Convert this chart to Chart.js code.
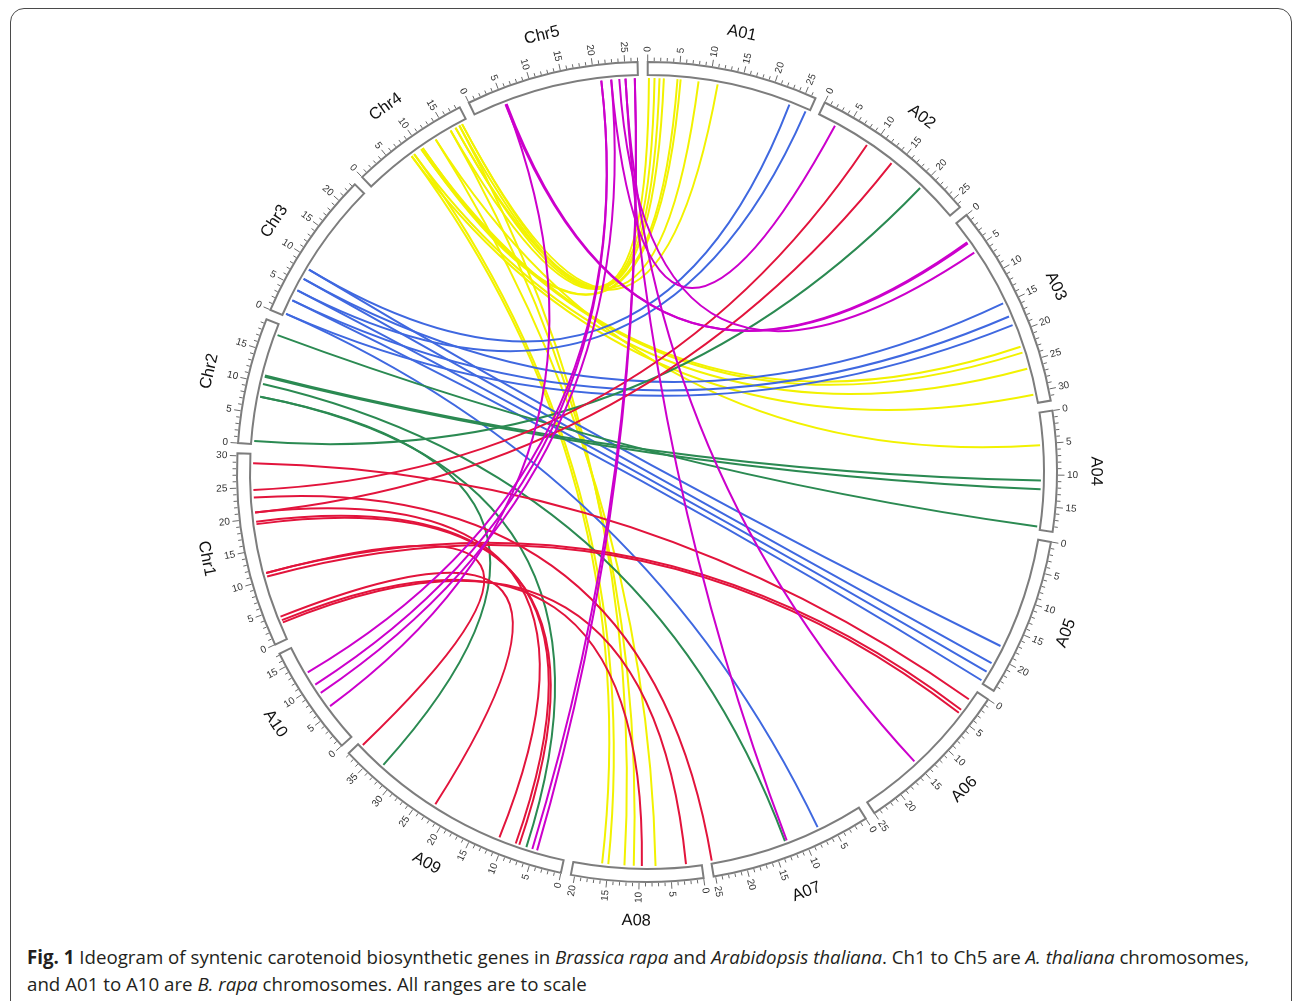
<!DOCTYPE html>
<html>
<head>
<meta charset="utf-8">
<script src="https://cdn.jsdelivr.net/npm/chart.js@4.4.1/dist/chart.umd.min.js"></script>
<style>
  body { margin: 0; background: #fff; width: 1292px; height: 1001px; overflow: hidden; position: relative; }
  #frame { position: absolute; left: 10px; top: 8px; width: 1282px; height: 1020px; border: 1.5px solid #4a4a4a; border-radius: 14px; box-sizing: border-box; }
  #wrap { position: absolute; left: 0; top: 0; width: 1292px; height: 930px; }
  #cap { position: absolute; left: 27px; top: 944px; font-family: 'Open Sans', sans-serif; font-size: 19px; line-height: 27px; color: #231f20; }
  #cap div { display: inline-block; white-space: nowrap; transform-origin: 0 50%; }
</style>
</head>
<body>
<div id="frame"></div>
<div id="wrap"><canvas id="chart"></canvas></div>
<div id="cap">
  <div id="l1"><b>Fig. 1</b> Ideogram of syntenic carotenoid biosynthetic genes in <i>Brassica rapa</i> and <i>Arabidopsis thaliana</i>. Ch1 to Ch5 are <i>A. thaliana</i> chromosomes,</div><br>
  <div id="l2">and A01 to A10 are <i>B. rapa</i> chromosomes. All ranges are to scale</div>
</div>
<script>
// chromosomes, clockwise from the top (Mb)
const chromNames = ['A01', 'A02', 'A03', 'A04', 'A05', 'A06', 'A07', 'A08', 'A09', 'A10', 'Chr1', 'Chr2', 'Chr3', 'Chr4', 'Chr5'];
const chromLengths = [26.7, 26.6, 31.8, 18.8, 24.8, 25.0, 25.3, 20.6, 38.2, 17.2, 30.4, 19.7, 23.5, 18.6, 27.0];

// links: [position on A. thaliana chromosome, B. rapa chromosome, position]
const chr1Links = [[28.9, 'A06', 1.7], [24.6, 'A02', 9.1], [23.4, 'A07', 25.2], [21.0, 'A02', 14.0], [21.0, 'A09', 10.9],
  [19.5, 'A09', 8.1], [19.1, 'A09', 7.5], [11.1, 'A06', 3.8], [10.5, 'A06', 4.4], [11.1, 'A09', 37.6],
  [3.7, 'A09', 22.5], [3.1, 'A08', 9.6], [2.7, 'A08', 2.5]];
const chr2Links = [[18.0, 'A04', 18.3], [11.2, 'A04', 10.9], [11.0, 'A04', 12.3], [9.8, 'A07', 13.0],
  [7.7, 'A09', 33.0], [7.7, 'A09', 6.3], [0.5, 'A02', 20.1]];
const chr3Links = [[8.4, 'A05', 18.1], [8.4, 'A01', 23.3], [6.7, 'A05', 21.2], [6.7, 'A03', 14.9], [4.6, 'A05', 22.8],
  [4.6, 'A01', 26.1], [2.8, 'A05', 24.4], [2.8, 'A03', 17.2], [0.4, 'A07', 7.3], [0.4, 'A03', 18.7]];
const chr4Links = [[8.1, 'A08', 16.0], [8.1, 'A03', 30.4], [8.6, 'A08', 15.0], [8.6, 'A03', 26.1], [10.0, 'A01', 5.3],
  [10.0, 'A03', 23.4], [10.3, 'A01', 4.8], [10.3, 'A03', 22.4], [12.8, 'A04', 5.2], [12.8, 'A08', 7.4],
  [15.6, 'A01', 2.6], [15.6, 'A08', 10.9], [16.5, 'A01', 1.9], [16.5, 'A01', 11.3], [17.2, 'A01', 1.1],
  [17.2, 'A08', 12.4], [17.7, 'A01', 0.2], [17.7, 'A01', 8.2]];
const chr5Links = [[5.2, 'A03', 3.5], [5.4, 'A03', 3.7], [5.3, 'A10', 6.0], [21.1, 'A10', 12.5], [21.1, 'A10', 10.2],
  [22.7, 'A10', 8.6], [22.7, 'A02', 3.1], [24.0, 'A03', 5.5], [25.0, 'A07', 12.7], [25.0, 'A06', 15.0],
  [26.5, 'A09', 4.5], [26.5, 'A09', 5.3]];

const linkSources = ['Chr4', 'Chr3', 'Chr2', 'Chr1', 'Chr5'];
const linkSets = [chr4Links, chr3Links, chr2Links, chr1Links, chr5Links];
const linkColors = ['#f2f200', '#3f68e0', '#2b8a52', '#e2143c', '#cc00cc'];

// layout of the ring (degrees / px)
const GAP = 1.42, START = 0.1;
const R_IN = 397, R_OUT = 410, R_LINK = 394;
const totalMb = chromLengths.reduce((a, b) => a + b, 0);
const degPerMb = (360 - GAP * chromNames.length) / totalMb;
const chromStart = {};
let acc = START;
chromNames.forEach((n, i) => { chromStart[n] = acc; acc += chromLengths[i] * degPerMb + GAP; });
const rad = d => d * Math.PI / 180;
const angleOf = (chrom, pos) => rad(chromStart[chrom] + pos * degPerMb);

const circosPlugin = {
  id: 'circos',
  afterDatasetsDraw(chart) {
    const ctx = chart.ctx;
    const sx = chart.scales.x, sy = chart.scales.y;
    const cx = sx.getPixelForValue(0), cy = sy.getPixelForValue(0);
    const px = (r, a) => sx.getPixelForValue(r * Math.sin(a));
    const py = (r, a) => sy.getPixelForValue(-r * Math.cos(a));
    const rp = r => sx.getPixelForValue(r) - cx;
    ctx.save();

    // links
    ctx.lineWidth = 2;
    ctx.lineCap = 'butt';
    linkSets.forEach((set, k) => {
      ctx.strokeStyle = linkColors[k];
      set.forEach(l => {
        const a0 = angleOf(linkSources[k], l[0]), a1 = angleOf(l[1], l[2]);
        ctx.beginPath();
        ctx.moveTo(px(R_LINK, a0), py(R_LINK, a0));
        ctx.quadraticCurveTo(cx, cy, px(R_LINK, a1), py(R_LINK, a1));
        ctx.stroke();
      });
    });

    // ideogram boxes, ticks, labels
    chromNames.forEach((n, i) => {
      const a0 = angleOf(n, 0), a1 = angleOf(n, chromLengths[i]);
      ctx.beginPath();
      ctx.arc(cx, cy, rp(R_OUT), a0 - Math.PI / 2, a1 - Math.PI / 2);
      ctx.arc(cx, cy, rp(R_IN), a1 - Math.PI / 2, a0 - Math.PI / 2, true);
      ctx.closePath();
      ctx.fillStyle = '#fff';
      ctx.fill();
      ctx.strokeStyle = '#7d7d7d';
      ctx.lineWidth = 2;
      ctx.stroke();

      ctx.strokeStyle = '#6a6a6a';
      ctx.lineWidth = 1;
      for (let m = 0; m <= chromLengths[i]; m++) {
        const a = angleOf(n, m);
        const len = m % 5 === 0 ? 6.5 : 3.5;
        ctx.beginPath();
        ctx.moveTo(px(R_OUT + 1, a), py(R_OUT + 1, a));
        ctx.lineTo(px(R_OUT + 1 + len, a), py(R_OUT + 1 + len, a));
        ctx.stroke();
        if (m % 5 === 0) {
          const deg = chromStart[n] + m * degPerMb;
          ctx.save();
          ctx.translate(px(R_OUT + 10, a), py(R_OUT + 10, a));
          ctx.font = '10px "Liberation Sans", Arial, sans-serif';
          ctx.fillStyle = '#333';
          ctx.textBaseline = 'middle';
          if (deg < 180) { ctx.rotate(rad(deg - 90)); ctx.textAlign = 'left'; }
          else { ctx.rotate(rad(deg + 90)); ctx.textAlign = 'right'; }
          ctx.fillText(String(m), 0, 0);
          ctx.restore();
        }
      }

      const mid = chromStart[n] + chromLengths[i] * degPerMb / 2;
      ctx.save();
      ctx.translate(px(449, rad(mid)), py(449, rad(mid)));
      ctx.rotate(rad(mid > 90 && mid < 270 ? mid - 180 : mid));
      ctx.font = '16.5px "Liberation Sans", Arial, sans-serif';
      ctx.fillStyle = '#111';
      ctx.textAlign = 'center';
      ctx.textBaseline = 'middle';
      ctx.fillText(n, 0, 0);
      ctx.restore();
    });
    ctx.restore();
  }
};

new Chart(document.getElementById('chart'), {
  type: 'scatter',
  data: { datasets: [{ data: [] }] },
  options: {
    responsive: true,
    maintainAspectRatio: false,
    animation: false,
    events: [],
    layout: { padding: 0 },
    plugins: { legend: { display: false }, tooltip: { enabled: false } },
    scales: {
      x: { type: 'linear', min: -647, max: 645, display: false },
      y: { type: 'linear', min: -472, max: 458, reverse: true, display: false }
    }
  },
  plugins: [circosPlugin]
});

// fit caption width
const l1 = document.getElementById('l1'), l2 = document.getElementById('l2');
const s = 1222 / l1.getBoundingClientRect().width;
l1.style.transform = 'scaleX(' + s + ')';
l2.style.transform = 'scaleX(' + s + ')';
</script>
</body>
</html>
